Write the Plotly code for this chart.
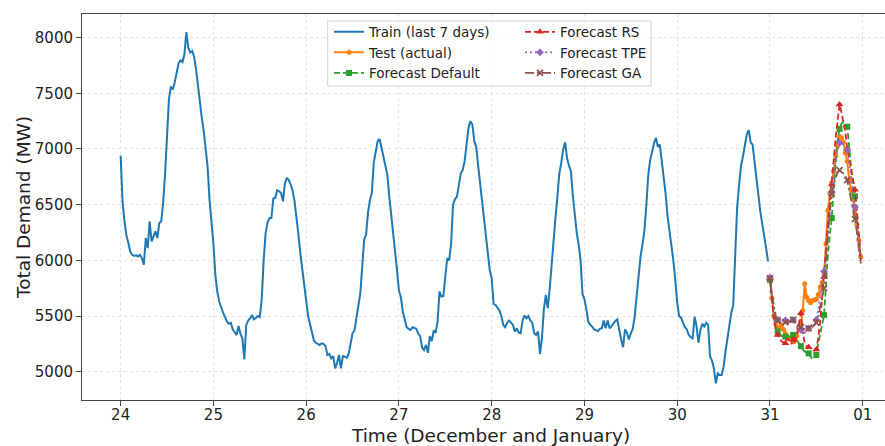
import pandas as pd
import plotly.graph_objects as go

# ---------------- data (half-hourly, MW) ----------------
dec24 = [6940, 6520, 6350, 6220, 6155, 6075, 6050, 6040, 6045, 6035, 6050, 6020,
         5960, 6200, 6110, 6350, 6170, 6220, 6260, 6200, 6335, 6350, 6515, 6780,
         7085, 7450, 7560, 7535, 7600, 7700, 7770, 7795, 7780, 7850, 8050, 7910,
         7865, 7880, 7830, 7720, 7560, 7415, 7280, 7160, 7000, 6840, 6545, 6360]
dec25 = [6150, 5870, 5720, 5630, 5570, 5530, 5490, 5450, 5430, 5440, 5380, 5360,
         5330, 5410, 5340, 5300, 5110, 5420, 5460, 5480, 5510, 5470, 5490, 5500,
         5490, 5650, 6000, 6240, 6340, 6380, 6380, 6555, 6560, 6630, 6620, 6605,
         6530, 6690, 6740, 6720, 6680, 6625, 6530, 6400, 6230, 6060, 5900, 5740]
dec26 = [5640, 5500, 5420, 5340, 5280, 5260, 5250, 5240, 5255, 5250, 5230, 5150,
         5160, 5120, 5140, 5030, 5080, 5150, 5030, 5140, 5135, 5125, 5160, 5240,
         5345, 5370, 5500, 5590, 5700, 5950, 6185, 6230, 6430, 6540, 6610, 6880,
         6960, 7070, 7090, 7010, 6930, 6860, 6770, 6575, 6420, 6250, 6090, 5915]
dec27 = [5730, 5670, 5540, 5460, 5400, 5385, 5375, 5400, 5390, 5385, 5340, 5320,
         5215, 5195, 5240, 5170, 5320, 5275, 5370, 5350, 5450, 5720, 5675, 5680,
         5855, 6020, 6000, 6150, 6500, 6550, 6570, 6660, 6780, 6810, 6890, 7040,
         7190, 7250, 7220, 7070, 7020, 6850, 6695, 6490, 6350, 6220, 6060, 5910]
dec28 = [5840, 5610, 5600, 5580, 5550, 5500, 5420, 5400, 5440, 5460, 5440, 5420,
         5360, 5390, 5350, 5345, 5460, 5505, 5480, 5500, 5460, 5440, 5345, 5330,
         5360, 5160, 5300, 5560, 5690, 5570, 5740, 5975, 6210, 6380, 6570, 6780,
         6875, 6995, 7060, 6920, 6850, 6800, 6580, 6400, 6250, 6140, 6000, 5700]
dec29 = [5650, 5560, 5450, 5420, 5405, 5380, 5375, 5365, 5385, 5390, 5460, 5390,
         5460, 5390, 5410, 5435, 5455, 5470, 5360, 5290, 5220, 5380, 5350, 5290,
         5345, 5385, 5495, 5690, 5880, 6030, 6140, 6260, 6485, 6760, 6900, 6990,
         7050, 7100, 7020, 7040, 6905, 6780, 6600, 6400, 6280, 6150, 6000, 5830]
dec30 = [5620, 5500, 5485, 5440, 5400, 5380, 5330, 5310, 5300, 5495, 5410, 5260,
         5375, 5430, 5405, 5440, 5420, 5135, 5100, 5030, 4895, 4985, 4970, 4970,
         5045, 5180, 5300, 5420, 5530, 5600, 6120, 6470, 6670, 6845, 6930, 7020,
         7130, 7170, 7060, 7040, 6900, 6780, 6590, 6440, 6340, 6245, 6110, 5990]
train_values = dec24 + dec25 + dec26 + dec27 + dec28 + dec29 + dec30

test_values = [5840, 5660, 5500, 5430, 5390, 5400, 5420, 5380, 5340, 5315, 5305, 5290,
               5270, 5290, 5320, 5390, 5420, 5550, 5790, 5670, 5640, 5620, 5640, 5645,
               5650, 5690, 5760, 5800, 5870, 6150, 6450, 6600, 6700, 6800, 6940, 7030,
               7110, 7100, 7060, 6965, 6890, 6720, 6630, 6550, 6420, 6320, 6180, 6030]
fc_default = [5825, 5620, 5480, 5400, 5360, 5340, 5320, 5315, 5315, 5330, 5300, 5310,
              5330, 5310, 5280, 5250, 5230, 5200, 5180, 5170, 5165, 5140, 5110, 5130,
              5150, 5250, 5350, 5420, 5510, 5800, 6050, 6230, 6380, 6650, 6900, 7080,
              7180, 7230, 7240, 7230, 7200, 7000, 6800, 6650, 6575, 6400, 6200, 6010]
fc_rs = [5840, 5650, 5480, 5380, 5330, 5300, 5270, 5260, 5255, 5300, 5270, 5250,
         5290, 5260, 5340, 5450, 5525, 5350, 5260, 5230, 5220, 5210, 5200, 5190,
         5200, 5300, 5450, 5650, 5850, 6100, 6330, 6500, 6680, 6900, 7100, 7270,
         7400, 7330, 7250, 7150, 7000, 6900, 6820, 6730, 6635, 6450, 6200, 6000]
fc_tpe = [5845, 5700, 5590, 5510, 5465, 5440, 5450, 5455, 5460, 5445, 5470, 5460,
          5465, 5430, 5400, 5380, 5375, 5360, 5350, 5370, 5390, 5410, 5430, 5450,
          5465, 5560, 5680, 5790, 5900, 6080, 6270, 6450, 6605, 6770, 6900, 7000,
          7055, 7060, 7040, 7020, 6990, 6880, 6750, 6620, 6480, 6320, 6150, 6000]
fc_ga = [5840, 5700, 5580, 5500, 5460, 5440, 5445, 5450, 5445, 5430, 5450, 5460,
         5465, 5440, 5420, 5410, 5400, 5390, 5380, 5385, 5390, 5395, 5400, 5420,
         5440, 5500, 5580, 5650, 5750, 6000, 6250, 6450, 6600, 6680, 6740, 6790,
         6810, 6800, 6780, 6760, 6720, 6640, 6540, 6450, 6370, 6250, 6100, 5970]

y_ticks = [5000, 5500, 6000, 6500, 7000, 7500, 8000]

train_time = pd.date_range("2019-12-24 00:00", periods=len(train_values), freq="30min")
test_time = pd.date_range("2019-12-31 00:00", periods=len(test_values), freq="30min")
day_ticks = pd.date_range("2019-12-24", "2020-01-01", freq="D")

FONT = "DejaVu Sans"
C_BLUE, C_ORANGE, C_GREEN = "#1f77b4", "#ff7f0e", "#2ca02c"
C_RED, C_PURPLE, C_BROWN = "#d62728", "#9467bd", "#8c564b"

fig = go.Figure()

fig.add_trace(go.Scatter(x=train_time, y=train_values, mode="lines",
                         name="Train (last 7 days)", legend="legend",
                         line=dict(color=C_BLUE, width=2)))
fig.add_trace(go.Scatter(x=test_time, y=test_values, mode="lines+markers",
                         name="Test (actual)", legend="legend",
                         line=dict(color=C_ORANGE, width=2),
                         marker=dict(symbol="circle", size=5, color=C_ORANGE)))


def sparse(xs, ys, every=4):
    sx, sy = [], []
    for i in range(0, len(ys), every):
        sx += [xs[i], None]
        sy += [ys[i], None]
    return sx, sy


forecasts = [
    ("Forecast Default", fc_default, C_GREEN, "6px,3px", "square", 6, "legend"),
    ("Forecast RS", fc_rs, C_RED, "6px,3px", "triangle-up", 7, "legend2"),
    ("Forecast TPE", fc_tpe, C_PURPLE, "2px,3px", "diamond", 6, "legend2"),
    ("Forecast GA", fc_ga, C_BROWN, "9px,3px,2px,3px", "x-thin-open", 6, "legend2"),
]
for name, vals, col, dash, sym, ms, leg in forecasts:
    fig.add_trace(go.Scatter(x=test_time, y=vals, mode="lines", showlegend=False,
                             line=dict(color=col, width=1.8, dash=dash),
                             hoverinfo="skip"))
    sx, sy = sparse(list(test_time), vals)
    mk = dict(symbol=sym, size=ms, color=col)
    if sym == "x-thin-open":
        mk["line"] = dict(color=col, width=1.8)
    fig.add_trace(go.Scatter(x=sx, y=sy, mode="lines+markers", name=name, legend=leg,
                             connectgaps=False,
                             line=dict(color=col, width=1.8, dash=dash),
                             marker=mk))

x0 = pd.Timestamp("2019-12-23 14:00")
x1 = pd.Timestamp("2020-01-01 05:46")

PLOT_TOP, PLOT_BOTTOM, PLOT_LEFT = 14, 400, 82
PH = PLOT_BOTTOM - PLOT_TOP
PW = 885 - PLOT_LEFT

axis_common = dict(
    showline=True, linecolor="#444", linewidth=1,
    ticks="outside", ticklen=5, tickcolor="#444", tickwidth=1,
    showgrid=True, gridcolor="#e3e3e3", griddash="dot", gridwidth=1,
    zeroline=False, automargin=False,
    tickfont=dict(family=FONT, size=15, color="#222"),
)

fig.update_layout(
    width=885, height=446,
    margin=dict(l=PLOT_LEFT, r=0, t=PLOT_TOP, b=446 - PLOT_BOTTOM),
    paper_bgcolor="white", plot_bgcolor="white",
    font=dict(family=FONT, color="#222"),
    xaxis=dict(type="date", range=[x0, x1], tickvals=list(day_ticks), tickformat="%d",
               mirror=True, ticklabelstandoff=-4, **axis_common),
    yaxis=dict(range=[4746, 8212], tickvals=y_ticks, mirror=False, **axis_common),
    legend=dict(x=(329 - PLOT_LEFT) / PW, y=(PLOT_BOTTOM - 16.5) / PH,
                xanchor="left", yanchor="top",
                bgcolor="rgba(0,0,0,0)", borderwidth=0, tracegroupgap=0,
                font=dict(family=FONT, size=13.5, color="#222"), itemwidth=30),
    legend2=dict(x=(520 - PLOT_LEFT) / PW, y=(PLOT_BOTTOM - 16.5) / PH,
                 xanchor="left", yanchor="top",
                 bgcolor="rgba(0,0,0,0)", borderwidth=0, tracegroupgap=0,
                 font=dict(family=FONT, size=13.5, color="#222"), itemwidth=30),
    shapes=[dict(type="rect", xref="paper", yref="paper",
                 x0=(327.7 - PLOT_LEFT) / PW, x1=(651 - PLOT_LEFT) / PW,
                 y0=(PLOT_BOTTOM - 86) / PH, y1=(PLOT_BOTTOM - 21) / PH,
                 line=dict(color="#d0d0d0", width=1),
                 fillcolor="rgba(255,255,255,0.8)", layer="above")],
    annotations=[
        dict(text="Time (December and January)", xref="paper", yref="paper",
             x=(490 - PLOT_LEFT) / PW, y=(PLOT_BOTTOM - 436) / PH,
             xanchor="center", yanchor="middle", showarrow=False,
             font=dict(family=FONT, size=18.5, color="#222")),
        dict(text="Total Demand (MW)", xref="paper", yref="paper",
             x=(23 - PLOT_LEFT) / PW, y=(PLOT_BOTTOM - 208) / PH,
             xanchor="center", yanchor="middle", showarrow=False, textangle=-90,
             font=dict(family=FONT, size=18.5, color="#222")),
    ],
    showlegend=True,
)

fig.write_html(
    "out.html",
    config={"displayModeBar": False},
    post_script="document.body.style.margin='0';"
                "document.body.style.overflow='hidden';"
                "document.documentElement.style.overflow='hidden';",
)
